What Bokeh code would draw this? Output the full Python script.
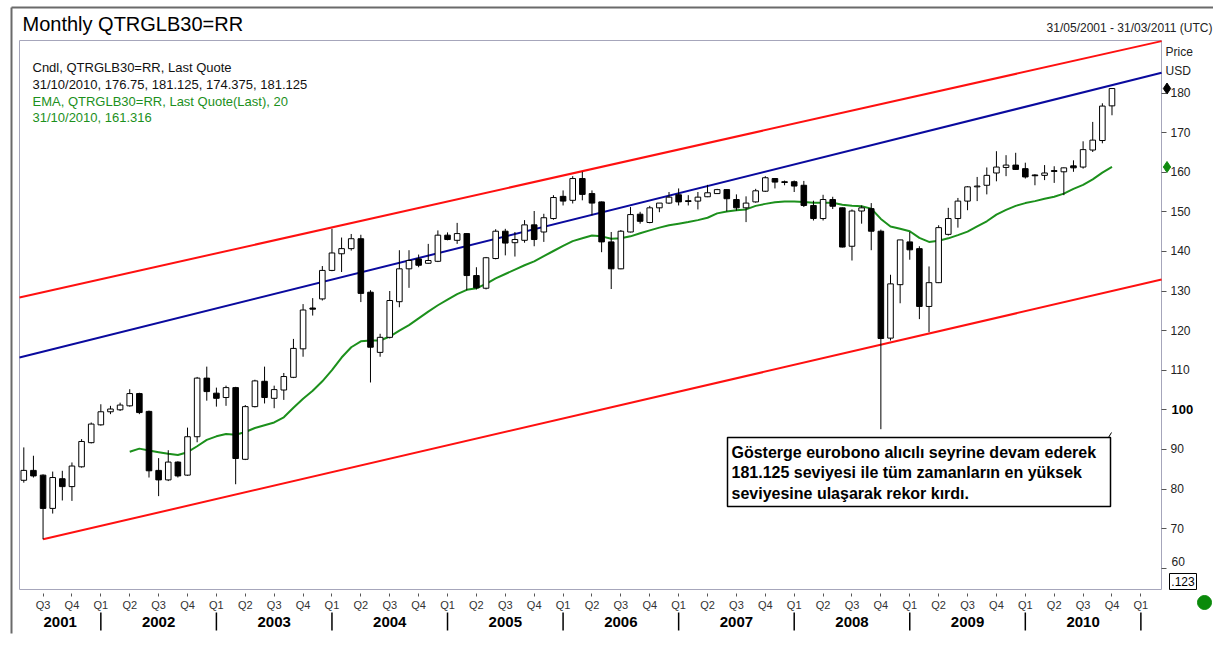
from bokeh.plotting import figure
from bokeh.models import LinearAxis, FixedTicker, Range1d
from bokeh.embed import file_html
from bokeh.resources import INLINE
from bokeh.core.properties import value

# ---------------- data (monthly candles, May 2001 .. Oct 2010) ----------------
first_year, first_month = 2001, 5
open_ = [82.2, 84.7, 83.5, 75.1, 82.6, 80.6, 85.6, 91.7, 96.2, 99.5, 100.0, 101.0,
         104.1, 99.6, 84.7, 82.3, 86.8, 83.5, 93.2, 108.0, 104.2, 103.1, 105.6, 87.5,
         100.8, 107.2, 102.9, 105.0, 108.2, 115.4, 125.7, 128.0, 135.2, 139.4, 140.7, 143.2,
         129.7, 114.5, 118.3, 127.3, 135.6, 138.1, 137.0, 137.5, 144.1, 142.8, 144.5, 133.9,
         130.7, 138.2, 145.1, 142.2, 142.8, 146.7, 144.9, 148.3, 153.9, 152.9, 158.4, 154.6,
         152.5, 142.4, 135.6, 144.9, 149.4, 147.3, 151.0, 152.2, 154.3, 152.8, 152.7, 153.8,
         154.6, 155.6, 153.1, 151.0, 152.5, 155.2, 158.4, 157.6, 157.6, 156.7, 151.6, 148.3,
         153.1, 151.0, 141.3, 150.2, 150.8, 145.1, 118.1, 131.6, 142.4, 140.7, 126.1, 132.1,
         144.3, 148.3, 152.7, 156.3, 156.7, 159.8, 161.2, 161.8, 160.9, 159.3, 159.2, 160.4,
         160.1, 161.6, 161.3, 165.6, 168.0, 176.75]
high = [90.5, 88.4, 83.7, 84.4, 84.6, 86.7, 92.6, 96.8, 101.4, 101.0, 101.8, 105.2,
        104.3, 99.8, 87.8, 89.8, 87.0, 95.5, 108.3, 110.9, 105.6, 106.1, 105.8, 101.2,
        107.6, 110.9, 106.1, 109.3, 117.9, 126.7, 128.2, 136.3, 145.7, 143.5, 144.4, 144.2,
        130.2, 119.2, 130.0, 140.3, 140.3, 139.2, 141.9, 145.3, 144.8, 147.2, 144.6, 136.0,
        138.6, 145.6, 145.7, 144.9, 147.9, 150.2, 149.5, 154.2, 155.4, 159.0, 160.1, 155.4,
        152.6, 144.9, 145.4, 151.2, 150.0, 151.5, 152.2, 155.0, 155.9, 154.2, 155.0, 156.8,
        155.8, 155.7, 154.4, 153.9, 155.8, 159.0, 158.5, 157.9, 157.9, 157.8, 152.8, 154.3,
        153.8, 151.1, 150.6, 151.6, 152.2, 145.5, 134.1, 142.9, 144.9, 141.3, 136.2, 146.6,
        151.0, 153.5, 156.5, 158.8, 161.2, 165.3, 164.3, 164.9, 162.4, 159.5, 161.8, 161.5,
        161.2, 163.0, 167.8, 172.7, 177.4, 181.125]
low = [81.6, 82.9, 67.3, 73.8, 77.1, 77.0, 85.4, 91.5, 96.0, 98.9, 99.7, 100.8,
       98.9, 82.9, 78.2, 82.0, 82.9, 83.3, 91.8, 102.3, 100.8, 101.0, 81.2, 87.3,
       100.6, 101.6, 100.4, 102.5, 108.0, 113.4, 123.8, 127.6, 135.0, 134.8, 140.2, 127.2,
       106.9, 113.4, 118.0, 125.9, 130.8, 136.0, 136.9, 137.3, 142.8, 141.9, 130.2, 130.4,
       130.4, 138.0, 139.0, 138.7, 142.2, 141.3, 142.4, 148.0, 151.6, 152.1, 152.9, 149.1,
       139.8, 130.5, 135.5, 144.8, 147.0, 147.1, 149.9, 152.0, 151.6, 151.6, 150.6, 153.7,
       154.5, 150.1, 150.3, 147.4, 152.3, 155.0, 155.9, 156.7, 155.0, 151.2, 147.8, 147.8,
       150.7, 141.0, 137.7, 147.0, 140.3, 95.1, 117.5, 126.9, 137.9, 122.9, 119.6, 132.0,
       144.0, 146.0, 150.4, 152.7, 154.4, 157.7, 159.0, 160.6, 158.4, 156.7, 158.0, 157.3,
       154.2, 160.1, 160.9, 165.1, 167.3, 174.375]
close = [84.7, 83.3, 75.1, 82.9, 80.6, 85.8, 92.0, 96.4, 99.5, 100.2, 101.2, 104.1,
         99.3, 84.6, 82.3, 86.8, 83.3, 93.2, 108.0, 104.6, 102.9, 105.6, 87.7, 100.8,
         107.3, 103.1, 105.1, 108.4, 115.5, 125.2, 125.4, 135.2, 139.6, 140.7, 143.2, 129.4,
         115.8, 118.3, 127.6, 135.6, 137.7, 136.5, 137.7, 144.1, 143.0, 144.5, 133.9, 130.8,
         138.4, 145.1, 142.1, 143.0, 146.7, 143.0, 148.5, 153.6, 152.7, 158.4, 154.4, 152.2,
         142.4, 135.6, 145.1, 149.3, 147.6, 151.0, 152.2, 153.7, 152.5, 152.6, 153.7, 154.8,
         155.6, 153.3, 151.0, 152.2, 155.3, 158.6, 157.5, 157.4, 156.5, 151.6, 148.3, 153.1,
         151.4, 141.1, 150.2, 151.0, 145.1, 118.0, 131.8, 142.9, 140.4, 126.1, 132.1, 146.0,
         148.3, 152.7, 156.3, 156.5, 159.2, 161.3, 161.8, 160.7, 158.8, 159.1, 159.8, 160.2,
         161.1, 161.1, 165.7, 168.1, 176.7, 181.125]

# EMA(20) of last quote, as drawn, starting at month index 11 (Apr 2002)
ema_start = 11
ema = [89.4, 90.2, 89.7, 89.3, 88.9, 88.6, 89.3, 90.8, 92.4, 93.3, 93.9, 93.7,
       94.4, 95.4, 96.1, 96.8, 98.1, 100.5, 102.8, 104.8, 107.2, 110.0, 113.2, 115.8,
       117.3, 117.5, 117.5, 118.5, 120.0, 121.4, 123.1, 124.8, 126.4, 127.8, 129.2, 130.3,
       130.7, 131.8, 133.2, 134.3, 135.4, 136.5, 137.5, 138.8, 140.1, 141.4, 142.6, 143.3,
       144.0, 143.8, 143.2, 143.3, 143.8, 144.6, 145.3, 146.0, 146.6, 147.0, 147.4, 147.9,
       148.5, 149.6, 150.1, 150.4, 150.6, 151.5, 152.0, 152.4, 152.6, 152.6, 152.5, 152.3,
       152.3, 152.3, 151.8, 151.5, 151.4, 150.8, 148.2, 146.3, 145.7, 145.1, 143.4, 142.4,
       142.7, 143.3, 144.1, 145.0, 146.3, 147.6, 149.3, 150.5, 151.5, 152.2, 152.7, 153.3,
       153.8, 154.6, 155.8, 156.8, 158.2, 159.9, 161.316]

# trend lines (month index, price)
upper_x, upper_y = [-0.45, 118.15], [128.35, 193.1]
mid_x, mid_y = [-0.45, 118.15], [113.2, 185.1]
lower_x, lower_y = [2, 118.15], [67.3, 132.9]

price_ticks = [60, 70, 80, 90, 100, 110, 120, 130, 140, 150, 160, 170, 180]
years = list(range(2001, 2011))

title_text = "Monthly QTRGLB30=RR"
range_text = "31/05/2001 - 31/03/2011 (UTC)"
legend_lines = ["Cndl, QTRGLB30=RR, Last Quote",
                "31/10/2010, 176.75, 181.125, 174.375, 181.125",
                "EMA, QTRGLB30=RR, Last Quote(Last),  20",
                "31/10/2010, 161.316"]
note_lines = ["Gösterge eurobono alıcılı seyrine devam ederek",
              "181.125 seviyesi ile tüm zamanların en yüksek",
              "seviyesine ulaşarak rekor kırdı."]

# ---------------- helpers: picture pixel -> data coordinate (for placement only) ----
def xd(X):
    return (X - 23.3) / 9.63

def yd(Y):
    return 100 - (Y - 409.3) / 3.96

FONT = value("Liberation Sans")
GREEN = "#1c901c"

n = len(close)
idx = list(range(n))

W, H = 1213, 649
p = figure(width=W, height=H, output_backend="svg", toolbar_location=None,
           x_range=Range1d(xd(0), xd(W)), y_range=Range1d(yd(H), yd(0)),
           min_border=0, x_axis_location=None, y_axis_location=None)
p.title.visible = False
p.background_fill_color = "white"
p.border_fill_color = "white"
p.outline_line_color = None
p.xgrid.visible = False
p.ygrid.visible = False

# outer frame (left and top edges)
p.segment(x0=[xd(11), xd(11)], y0=[yd(7), yd(7)], x1=[xd(11), xd(1215)], y1=[yd(633), yd(7)],
          line_color="#6a6a6a", line_width=2)

# plot area box
p.quad(left=[xd(19)], right=[xd(1161)], top=[yd(40)], bottom=[yd(589)],
       fill_color="white", line_color="#a6a6bb", line_width=1)

# trend lines
p.line(upper_x, upper_y, line_color="#ff1010", line_width=2)
p.line(lower_x, lower_y, line_color="#ff1010", line_width=2)
p.line(mid_x, mid_y, line_color="#0a0a9e", line_width=2)

# EMA
p.line(list(range(ema_start, ema_start + len(ema))), ema, line_color=GREEN, line_width=2)

# candles
p.segment(x0=idx, y0=low, x1=idx, y1=high, line_color="black", line_width=1)
up = [i for i in idx if close[i] >= open_[i]]
dn = [i for i in idx if close[i] < open_[i]]
p.vbar(x=up, width=0.58, top=[close[i] for i in up], bottom=[open_[i] for i in up],
       fill_color="white", line_color="black", line_width=1)
p.vbar(x=dn, width=0.58, top=[open_[i] for i in dn], bottom=[close[i] for i in dn],
       fill_color="black", line_color="black", line_width=1)

# note box
p.quad(left=[xd(727)], right=[xd(1110)], top=[yd(437)], bottom=[yd(506)],
       fill_color="white", line_color="black", line_width=1.5)
p.segment(x0=[xd(1108)], y0=[yd(437)], x1=[xd(1111)], y1=[yd(432)], line_color="black", line_width=1)
p.text(x=[xd(731)] * 3, y=[yd(452), yd(472), yd(493)], text=note_lines,
       text_font=FONT, text_font_style="bold", text_font_size="16px",
       text_baseline="middle", text_align="left", text_color="black")

# right price axis (fixed at the plot area's right edge)
yax = LinearAxis(ticker=FixedTicker(ticks=price_ticks), minor_tick_line_color=None,
                 major_label_overrides={100: " ", 60: " "}, fixed_location=xd(1161))
yax.axis_line_color = None
yax.major_tick_line_color = "#555555"
yax.major_tick_in = 0
yax.major_tick_out = 5
yax.major_label_standoff = 4
yax.major_label_text_font = "Liberation Sans"
yax.major_label_text_font_size = "12px"
yax.major_label_text_color = "#222222"
p.add_layout(yax, "right")
p.text(x=[xd(1171)], y=[100], text=["100"], text_font=FONT, text_font_style="bold",
       text_font_size="13px", text_baseline="middle", text_color="black")
p.text(x=[xd(1171)], y=[yd(561)], text=["60"], text_font=FONT,
       text_font_size="12px", text_baseline="middle", text_color="#222222")

# bottom quarter axis (fixed at the plot area's bottom edge)
q_ticks = [i for i in range(n + 4) if (first_month - 1 + i) % 3 == 0]
q_labels = {i: "Q%d" % (((first_month - 1 + i) % 12) // 3 + 1) for i in q_ticks}
xax = LinearAxis(ticker=FixedTicker(ticks=q_ticks), minor_tick_line_color=None,
                 major_label_overrides=q_labels, fixed_location=yd(589))
xax.axis_line_color = None
xax.major_tick_line_color = "#555555"
xax.major_tick_in = -4
xax.major_tick_out = 7
xax.major_label_standoff = 2
xax.major_label_text_font = "Liberation Sans"
xax.major_label_text_font_size = "11px"
xax.major_label_text_color = "#333333"
p.add_layout(xax, "below")

# year labels and separators
x_lo, x_hi = xd(19), xd(1161)
yr_x, sep_x = [], []
for yr in years:
    jan = (yr - first_year) * 12 - (first_month - 1)
    a = max(jan, x_lo)
    b = min(jan + 12, x_hi)
    yr_x.append((a + b) / 2)
    sep_x.append(jan + 12)
p.text(x=yr_x, y=[yd(621)] * len(years), text=[str(y) for y in years], text_font=FONT,
       text_font_style="bold", text_font_size="15px", text_align="center",
       text_baseline="middle", text_color="black")
p.segment(x0=sep_x, y0=[yd(612)] * len(sep_x), x1=sep_x, y1=[yd(630)] * len(sep_x),
          line_color="black", line_width=1.5)

# header texts
p.text(x=[xd(22)], y=[yd(23)], text=[title_text], text_font=FONT, text_font_size="20px",
       text_baseline="middle", text_color="black")
p.text(x=[xd(1212)], y=[yd(27)], text=[range_text], text_font=FONT, text_font_size="12px",
       text_baseline="middle", text_align="right", text_color="#222222")
p.text(x=[xd(1165)] * 2, y=[yd(51), yd(70)], text=["Price", "USD"], text_font=FONT,
       text_font_size="12px", text_baseline="middle", text_color="#222222")

# legend texts
p.text(x=[xd(32)] * 4, y=[yd(66.7 + 16.9 * k) for k in range(4)], text=legend_lines,
       text_font=FONT, text_font_size="13px", text_baseline="middle",
       text_color=["#111111", "#111111", GREEN, GREEN])

# last-value markers on the price axis
p.scatter(x=[xd(1166.5), xd(1166.5)], y=[close[-1], ema[-1]], marker="diamond", size=11,
          fill_color=["black", "#108a10"], line_color=["black", "#108a10"])
p.quad(left=[xd(1169)], right=[xd(1196)], top=[yd(573)], bottom=[yd(589)],
       fill_color="white", line_color="black", line_width=1)
p.text(x=[xd(1182.5)], y=[yd(581)], text=[".123"], text_font=FONT, text_font_size="12px",
       text_baseline="middle", text_align="center", text_color="black")
p.scatter(x=[xd(1204)], y=[yd(602)], marker="circle", size=14,
          fill_color="#0a8a0a", line_color="#0a8a0a")

open("out.html", "w").write(file_html(p, INLINE))
